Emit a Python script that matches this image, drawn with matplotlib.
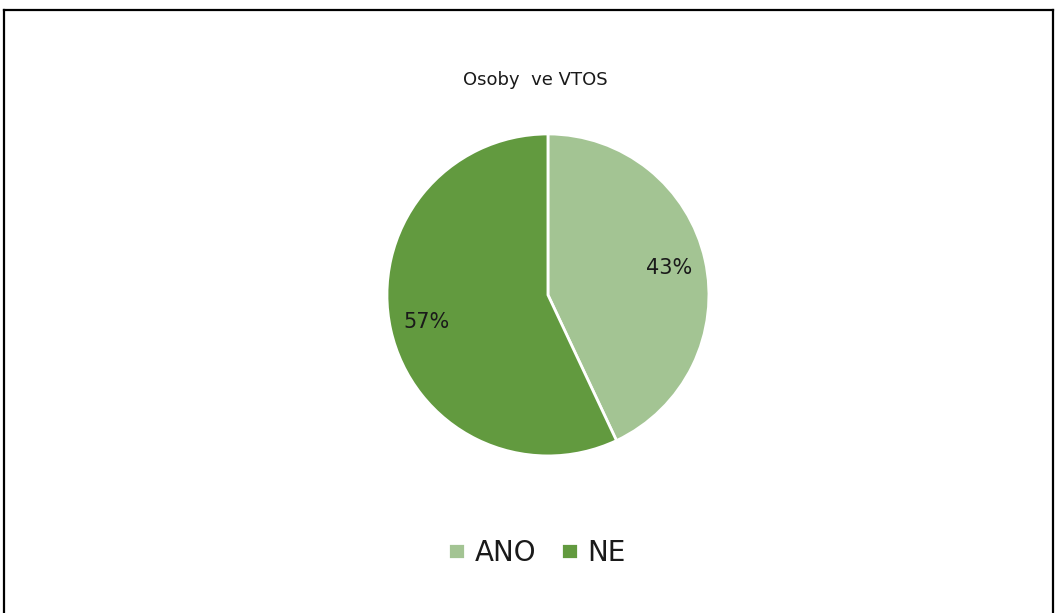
import matplotlib
matplotlib.use("Agg")
import matplotlib.pyplot as plt
from matplotlib.lines import Line2D

##data
categories = ["ANO", "NE"]
shares = [43, 57]
colors = ["#A3C493", "#629A3F"]
title = "Osoby  ve VTOS"

##figure and frame
fig = plt.figure(figsize=(10.57, 6.13), dpi=100)
fig.add_artist(Line2D([0.0035, 0.0035], [0, 0.983], color="black", lw=1.6, transform=fig.transFigure))
fig.add_artist(Line2D([0.0035, 0.996], [0.983, 0.983], color="black", lw=1.6, transform=fig.transFigure))
fig.add_artist(Line2D([0.996, 0.996], [0, 0.983], color="black", lw=1.6, transform=fig.transFigure))

##pie
ax = fig.add_axes([0.5184 - 0.1523, 0.5188 - 0.2626, 0.3046, 0.5253])
wedges, texts, autotexts = ax.pie(shares, colors=colors, startangle=90, counterclock=False,
                                  autopct="%d%%", pctdistance=0.77,
                                  wedgeprops={"edgecolor": "white", "linewidth": 2},
                                  textprops={"fontsize": 15, "color": "#1a1a1a"})
ax.set_xlim(-1, 1)
ax.set_ylim(-1, 1)
ax.axis("off")

fig.text(0.506, 0.869, title, ha="center", va="center", fontsize=13, color="#1a1a1a")

##legend
fig.legend(wedges, categories, loc="center", bbox_to_anchor=(0.508, 0.098), ncol=2,
           frameon=False, fontsize=20, handlelength=0.6, handleheight=0.55,
           handletextpad=0.35, columnspacing=0.9, labelcolor="#1a1a1a")

fig.savefig("out.png", dpi=100)
